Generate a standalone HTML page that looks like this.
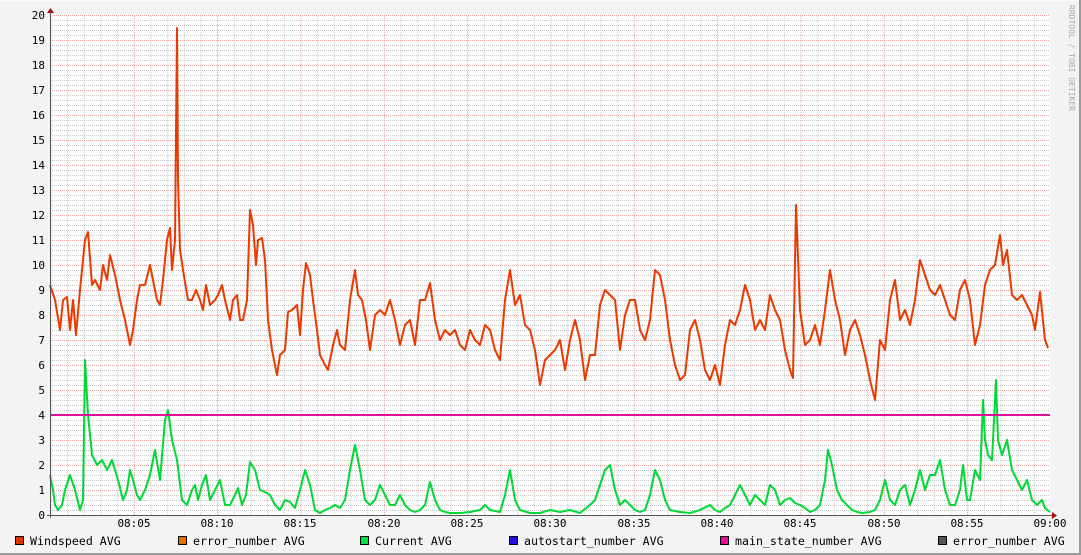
<!DOCTYPE html>
<html><head><meta charset="utf-8"><style>
html,body{margin:0;padding:0;background:#f3f3f3}
svg{display:block}
text{font-family:"DejaVu Sans Mono","Liberation Mono",monospace;font-size:11px;fill:#000}
.lg{font-size:11.6px}
</style></head><body>
<svg width="1081" height="555" viewBox="0 0 1081 555" xmlns="http://www.w3.org/2000/svg">
<defs>
<pattern id="mh" x="0" y="15" width="1000" height="5" patternUnits="userSpaceOnUse"><line x1="0" y1="0.5" x2="1000" y2="0.5" stroke="#c8c8c8" stroke-width="1" stroke-dasharray="1,1"/></pattern>
<pattern id="mv" x="50.5" y="0" width="16.667" height="600" patternUnits="userSpaceOnUse"><line x1="0.5" y1="0" x2="0.5" y2="600" stroke="#c8c8c8" stroke-width="1" stroke-dasharray="1,1"/></pattern>
<pattern id="Mh" x="0" y="15" width="1000" height="25" patternUnits="userSpaceOnUse"><line x1="0" y1="0.5" x2="1000" y2="0.5" stroke="#eaa0a0" stroke-width="1" stroke-dasharray="1,1"/></pattern>
<pattern id="Mv" x="50.5" y="0" width="83.333" height="600" patternUnits="userSpaceOnUse"><line x1="0.5" y1="0" x2="0.5" y2="600" stroke="#eaa0a0" stroke-width="1" stroke-dasharray="1,1"/></pattern>
</defs>
<rect x="0" y="0" width="1081" height="555" fill="#f3f3f3"/>
<rect x="0" y="0" width="1081" height="1" fill="#fcfcfc"/>
<rect x="1079" y="0" width="2" height="555" fill="#9a9a9a"/>
<rect x="0" y="553" width="1081" height="2" fill="#9a9a9a"/>
<rect x="51" y="15" width="999" height="500" fill="#fff"/>
<rect x="51" y="15" width="999" height="500" fill="url(#mh)"/>
<rect x="51" y="15" width="999" height="500" fill="url(#mv)"/>
<rect x="51" y="15" width="999" height="500" fill="url(#Mh)"/>
<rect x="51" y="15" width="999" height="500" fill="url(#Mv)"/>
<g text-anchor="end">
<text x="45" y="519">0</text><text x="45" y="494">1</text><text x="45" y="469">2</text><text x="45" y="444">3</text><text x="45" y="419">4</text><text x="45" y="394">5</text><text x="45" y="369">6</text><text x="45" y="344">7</text><text x="45" y="319">8</text><text x="45" y="294">9</text><text x="45" y="269">10</text><text x="45" y="244">11</text><text x="45" y="219">12</text><text x="45" y="194">13</text><text x="45" y="169">14</text><text x="45" y="144">15</text><text x="45" y="119">16</text><text x="45" y="94">17</text><text x="45" y="69">18</text><text x="45" y="44">19</text><text x="45" y="19">20</text>
</g>
<g text-anchor="middle">
<text x="134" y="527">08:05</text><text x="217" y="527">08:10</text><text x="300" y="527">08:15</text><text x="384" y="527">08:20</text><text x="467" y="527">08:25</text><text x="550" y="527">08:30</text><text x="634" y="527">08:35</text><text x="717" y="527">08:40</text><text x="800" y="527">08:45</text><text x="884" y="527">08:50</text><text x="967" y="527">08:55</text><text x="1050" y="527">09:00</text>
</g>
<polyline fill="none" stroke="#ea3a00" stroke-width="2" stroke-linejoin="round" points="50,285 55,300 60,330 63,300 67,297 70,330 73,300 76,335 80,290 85,240 88,232 92,285 95,280 100,290 103,265 107,280 110,255 115,275 120,300 125,320 130,345 133,330 137,300 140,285 145,285 150,265 153,280 157,300 160,305 163,280 167,240 170,228 172,270 175,240 177,28 178,180 180,250 183,270 188,300 192,300 196,290 200,300 203,310 206,285 210,305 215,300 218,295 222,285 225,300 230,320 233,300 237,295 240,320 243,320 247,300 250,210 253,225 256,265 258,240 262,238 265,260 268,320 272,350 277,375 280,355 285,350 288,312 292,310 297,305 300,335 303,290 306,263 310,275 313,300 317,330 320,355 325,365 328,370 333,345 337,330 340,345 345,350 350,300 355,270 358,295 362,300 366,320 370,350 375,315 380,310 385,315 390,300 395,320 400,345 405,325 410,320 415,345 420,300 425,300 430,283 435,320 440,340 445,330 450,335 455,330 460,345 465,350 470,330 475,340 480,345 485,325 490,330 495,350 500,360 505,300 510,270 515,305 520,295 525,325 530,330 535,350 540,385 545,360 550,355 555,350 560,340 565,370 570,340 575,320 580,340 585,380 590,355 595,355 600,305 605,290 610,295 615,300 620,350 625,315 630,300 635,300 640,330 645,340 650,320 655,270 660,275 665,300 670,340 675,365 680,380 685,375 690,330 695,320 700,340 705,370 710,380 715,365 720,385 725,345 730,320 735,325 740,310 745,285 750,300 755,330 760,320 765,330 770,295 775,310 780,320 785,350 790,370 793,378 796,205 800,310 805,345 810,340 815,325 820,345 825,310 830,270 835,300 840,320 845,355 850,330 855,320 860,335 865,355 870,380 875,400 880,340 885,350 890,300 895,280 900,320 905,310 910,325 915,300 920,260 925,275 930,290 935,295 940,285 945,300 950,315 955,320 960,290 965,280 970,300 975,345 980,325 985,285 990,270 995,265 1000,235 1003,265 1007,250 1012,295 1017,300 1022,295 1027,305 1032,315 1035,330 1040,292 1045,340 1048,348"/>
<polyline fill="none" stroke="#00d835" stroke-width="2" stroke-linejoin="round" points="50,475 53,490 55,505 58,510 62,505 65,490 70,475 75,490 80,510 83,500 85,360 88,415 92,455 97,465 102,460 107,470 112,460 118,480 123,500 127,490 130,470 133,480 137,495 140,500 145,490 150,475 155,450 160,480 165,420 168,410 172,440 177,460 182,500 187,505 192,490 195,485 198,500 202,485 206,475 210,500 215,490 220,480 225,505 230,505 235,495 238,488 242,505 246,495 250,462 255,470 260,490 265,492 270,495 275,505 280,510 285,500 290,502 295,508 300,490 305,470 310,485 315,510 320,513 325,510 330,508 335,505 340,508 345,500 350,470 355,445 360,470 365,500 370,505 375,500 380,485 385,495 390,505 395,505 400,495 405,505 410,510 415,512 420,510 425,505 430,482 435,500 440,510 445,512 450,513 460,513 470,512 480,510 485,505 490,510 500,512 505,495 510,470 515,500 520,510 530,513 540,513 550,510 560,512 570,510 580,513 590,505 595,500 600,485 605,470 610,465 615,490 620,505 625,500 630,505 635,510 640,512 645,510 650,495 655,470 660,480 665,500 670,510 680,512 690,513 700,510 710,505 715,510 720,512 725,508 730,505 735,495 740,485 745,495 750,505 755,495 760,500 765,505 770,485 775,490 780,505 785,500 790,498 795,503 800,505 805,508 810,512 815,510 820,505 825,480 828,450 832,465 837,490 842,500 847,505 852,510 857,512 862,513 870,512 875,510 880,500 885,480 890,500 895,505 900,490 905,485 910,505 915,490 920,470 925,490 930,475 935,475 940,460 945,490 950,505 955,505 960,490 963,465 967,500 970,500 975,470 980,480 983,400 985,440 988,455 992,460 996,380 998,440 1002,455 1007,440 1012,470 1017,480 1022,490 1027,480 1032,500 1037,505 1042,500 1045,508 1050,512"/>
<line x1="51" y1="415" x2="1050" y2="415" stroke="#e0109a" stroke-width="2"/>
<line x1="50.5" y1="12" x2="50.5" y2="518" stroke="#555" stroke-width="1"/>
<line x1="47" y1="515.5" x2="1053" y2="515.5" stroke="#555" stroke-width="1"/>
<polygon points="47,13 54,13 50.5,8" fill="#a01010"/>
<polygon points="1052,512 1052,519 1057,515.5" fill="#a01010"/>
<text x="0" y="0" transform="translate(1069,5) rotate(90)" style="font-size:8px;fill:#aaa">RRDTOOL / TOBI OETIKER</text>
<g class="lg">
<rect x="15.5" y="536.5" width="8" height="8" fill="#e03400" stroke="#000"/><text class="lg" x="30" y="545">Windspeed AVG</text>
<rect x="178.5" y="536.5" width="8" height="8" fill="#e07000" stroke="#000"/><text class="lg" x="193" y="545">error_number AVG</text>
<rect x="360.5" y="536.5" width="8" height="8" fill="#00e040" stroke="#000"/><text class="lg" x="375" y="545">Current AVG</text>
<rect x="509.5" y="536.5" width="8" height="8" fill="#2010e0" stroke="#000"/><text class="lg" x="524" y="545">autostart_number AVG</text>
<rect x="720.5" y="536.5" width="8" height="8" fill="#e0109a" stroke="#000"/><text class="lg" x="735" y="545">main_state_number AVG</text>
<rect x="938.5" y="536.5" width="8" height="8" fill="#555" stroke="#000"/><text class="lg" x="953" y="545">error_number AVG</text>
</g>
</svg>
</body></html>
